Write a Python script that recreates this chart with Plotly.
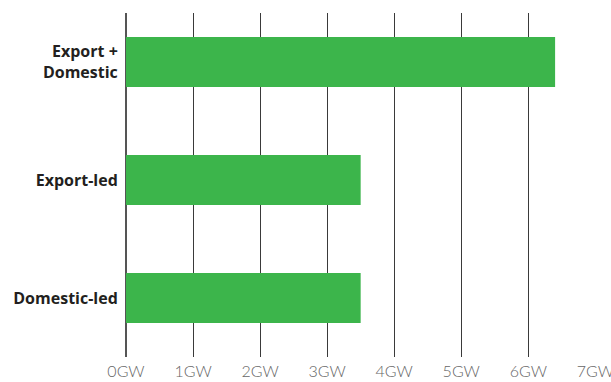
import plotly.graph_objects as go

categories = ["Export +<br>Domestic", "Export-led", "Domestic-led"]
values = [6.4, 3.5, 3.5]
tick_vals = [0, 1, 2, 3, 4, 5, 6, 7]
tick_text = ["0GW", "1GW", "2GW", "3GW", "4GW", "5GW", "6GW", "7GW"]

fig = go.Figure(go.Bar(
    y=categories, x=values, orientation="h",
    marker=dict(color="#3cb54b", line=dict(width=0)),
    width=0.424,
    hoverinfo="skip",
))

fig.update_layout(
    width=611, height=382,
    margin=dict(l=126, r=15, t=13, b=25),
    plot_bgcolor="white", paper_bgcolor="white",
    showlegend=False,
    font=dict(family="Lato, sans-serif"),
)
fig.update_xaxes(
    range=[0, 7.01], tickvals=tick_vals, ticktext=tick_text,
    showgrid=True, gridcolor="#3a3a3a", gridwidth=1,
    zeroline=True, zerolinecolor="#555555", zerolinewidth=2,
    tickfont=dict(size=16, color="#666666", family="Lato, sans-serif", weight=300),
    ticklabelstandoff=3, showline=False, automargin=False,
    ticklabeloverflow="allow",
)
fig.update_yaxes(
    categoryorder="array", categoryarray=categories,
    range=[2.5, -0.415], showgrid=False, zeroline=False,
    tickfont=dict(size=16, color="#231f20", family="Open Sans, sans-serif", weight="bold"),
    ticks="outside", ticklen=4, tickcolor="rgba(0,0,0,0)", automargin=False,
)

fig.write_html(
    "out.html",
    config={"displayModeBar": False},
    post_script="document.body.style.margin='0';document.body.style.overflow='hidden';",
)
